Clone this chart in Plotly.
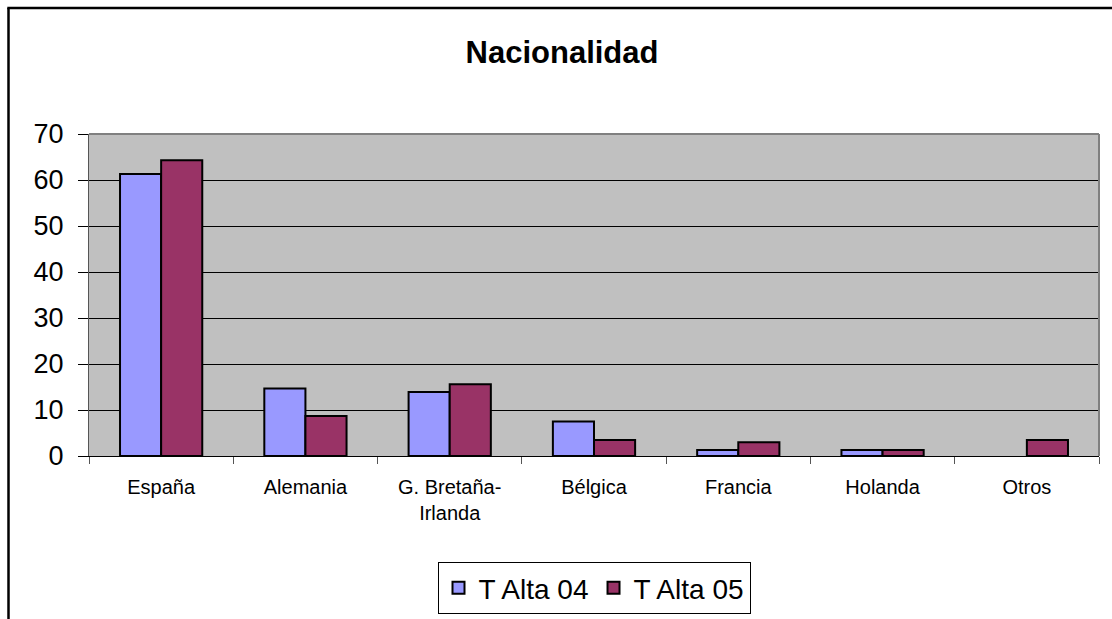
import plotly.graph_objects as go

categories = ["España", "Alemania", "G. Bretaña-<br>Irlanda", "Bélgica", "Francia", "Holanda", "Otros"]
t_alta_04 = [61.3, 14.7, 13.9, 7.5, 1.3, 1.3, 0]
t_alta_05 = [64.3, 8.7, 15.6, 3.5, 3.0, 1.3, 3.5]
y_ticks = [0, 10, 20, 30, 40, 50, 60, 70]

FONT = "Arial, Liberation Sans, sans-serif"

def outline_widths(vals):
    return [2 if v > 0 else 0 for v in vals]

fig = go.Figure()
fig.add_trace(go.Bar(name="T Alta 04", x=categories, y=t_alta_04,
                     marker=dict(color="#9999FF", line=dict(color="#000000", width=outline_widths(t_alta_04)))))
fig.add_trace(go.Bar(name="T Alta 05", x=categories, y=t_alta_05,
                     marker=dict(color="#993366", line=dict(color="#000000", width=outline_widths(t_alta_05)))))

W, H = 1112, 619
L, R, T, B = 89, 1099, 134, 456
pw, ph = R - L, B - T

def px(x):
    return (x - L) / pw

def py(y):
    return (B - y) / ph

fig.update_layout(
    width=W, height=H,
    margin=dict(l=L, r=W - R, t=T, b=H - B, pad=0, autoexpand=False),
    paper_bgcolor="white",
    plot_bgcolor="#C0C0C0",
    barmode="group",
    bargap=0.43,
    bargroupgap=0,
    font=dict(family=FONT, color="#000000"),
    title=dict(text="<b>Nacionalidad</b>", x=px(562), xref="paper", xanchor="center",
               y=1 - 52 / H, yanchor="middle", font=dict(size=31, family=FONT)),
    showlegend=True,
    legend=dict(orientation="h", xref="container", x=594 / W, xanchor="center",
                yref="container", y=1 - 562 / H, yanchor="top",
                bordercolor="#000000", borderwidth=1, bgcolor="white",
                font=dict(size=28, family=FONT), itemsizing="constant"),
    xaxis=dict(showgrid=False, showline=True, linecolor="#000000", linewidth=1,
               ticks="outside", ticklen=7, tickcolor="#555555", tickson="boundaries",
               tickfont=dict(size=20, family=FONT), ticklabelstandoff=13, zeroline=False,
               automargin=False),
    yaxis=dict(range=[0, 70], tickvals=y_ticks, showgrid=True, gridcolor="#000000", gridwidth=1,
               showline=True, linecolor="#555555", linewidth=1, ticks="outside", ticklen=10,
               tickcolor="#000000", tickfont=dict(size=27, family=FONT), ticklabelstandoff=9,
               zeroline=False, automargin=False),
    shapes=[
        dict(type="line", xref="paper", yref="paper", x0=0, x1=1, y0=1, y1=1,
             line=dict(color="#808080", width=2)),
        dict(type="line", xref="paper", yref="paper", x0=1, x1=1, y0=0, y1=1,
             line=dict(color="#808080", width=2)),
        dict(type="line", xref="paper", yref="paper", x0=px(8.5), x1=px(8.5), y0=py(640), y1=py(8),
             line=dict(color="#000000", width=2.5)),
        dict(type="line", xref="paper", yref="paper", x0=px(7.3), x1=px(1130), y0=py(8), y1=py(8),
             line=dict(color="#000000", width=2.5)),
    ],
)

fig.write_html("out.html", config={"displayModeBar": False},
               post_script="document.body.style.margin='0';document.body.style.overflow='hidden';")
